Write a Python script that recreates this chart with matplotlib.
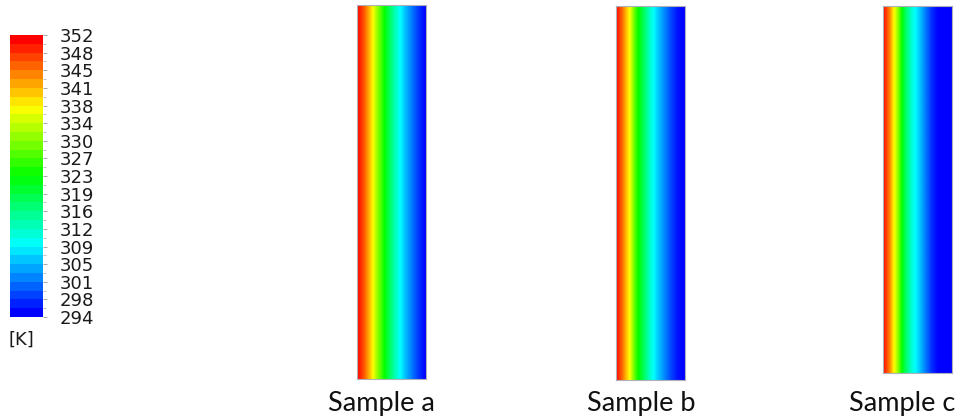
import numpy as np
import matplotlib
matplotlib.use("Agg")
import matplotlib.pyplot as plt
from matplotlib.colors import LinearSegmentedColormap, Normalize

# temperature range of the legend [K]
T_MIN, T_MAX = 294.0, 352.0
legend_labels = ["294", "298", "301", "305", "309", "312", "316", "319", "323",
                 "327", "330", "334", "338", "341", "345", "348", "352"]

# temperature across the width of each sample (left -> right)
positions = [0.0, 0.1, 0.2, 0.3, 0.4, 0.5, 0.6, 0.7, 0.8, 0.9, 1.0]
temp_a = [352, 347, 340, 331, 323, 316, 310, 305, 301, 297, 294]
temp_b = [352, 345, 337, 325, 318, 311, 306, 302, 298, 295, 294]
temp_c = [352, 344, 333, 320, 312, 307, 302, 297, 294, 294, 294]
samples = ["Sample a", "Sample b", "Sample c"]

W, H = 958, 419
fig = plt.figure(figsize=(W / 100, H / 100), dpi=100)


def ax_px(x0, y0, x1, y1):
    return fig.add_axes([x0 / W, 1 - y1 / H, (x1 - x0) / W, (y1 - y0) / H])


cmap = LinearSegmentedColormap.from_list(
    "fluent", [(0, 0, 1), (0, 1, 1), (0, 1, 0), (1, 1, 0), (1, 0, 0)])
norm = Normalize(T_MIN, T_MAX)

boxes = [(357, 5, 426, 379), (616, 6, 685, 380), (883, 6, 952, 373)]
label_x = [381, 641, 902]
for (x0, y0, x1, y1), prof, name, lx in zip(boxes, [temp_a, temp_b, temp_c],
                                           samples, label_x):
    ax = ax_px(x0, y0, x1, y1)
    fine = np.linspace(0, 1, 200)
    row = np.interp(fine, positions, prof)
    ax.imshow(np.tile(row, (2, 1)), cmap=cmap, norm=norm, aspect="auto",
              interpolation="bilinear", extent=(0, 1, 0, 1))
    ax.set_xticks([])
    ax.set_yticks([])
    for s in ax.spines.values():
        s.set_color("#b0b0b8")
        s.set_linewidth(0.8)
    fig.text(lx / W, 1 - 411 / H, name, family="Lato", fontsize=19.5,
             ha="center", va="baseline", color="#111111")

# legend bar
cax = ax_px(10, 35, 43, 317)
sm = plt.cm.ScalarMappable(norm=norm, cmap=cmap.resampled(32))
cb = fig.colorbar(sm, cax=cax, ticks=np.linspace(T_MIN, T_MAX, 17))
cb.outline.set_visible(False)
cb.ax.set_yticklabels(legend_labels, family="DejaVu Sans", fontsize=13,
                      color="#1a1a1a")
cb.ax.tick_params(length=3, width=0.6, color="#999999", pad=9)
cb.ax.minorticks_on()
cb.ax.yaxis.set_minor_locator(plt.FixedLocator(
    np.linspace(T_MIN, T_MAX, 33)))
cb.ax.tick_params(which="minor", length=2, width=0.5, color="#aaaaaa")
fig.text(9 / W, 1 - 340 / H, "[K]", family="DejaVu Sans", fontsize=13,
         va="center", ha="left", color="#1a1a1a")

fig.savefig("out.png", dpi=100)
